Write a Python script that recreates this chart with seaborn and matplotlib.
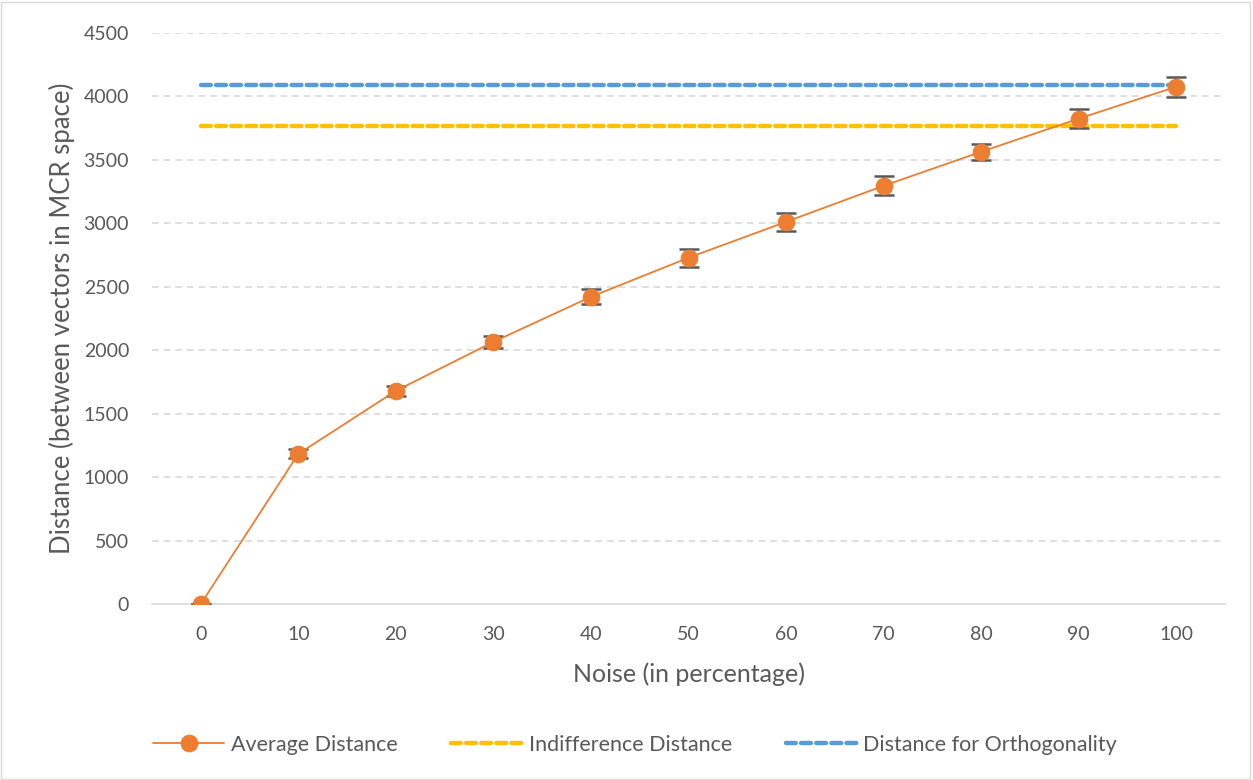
import pandas as pd
import matplotlib.pyplot as plt
import seaborn as sns
from matplotlib.patches import Rectangle

# Data
noise = [0, 10, 20, 30, 40, 50, 60, 70, 80, 90, 100]
avg_distance = [0, 1183, 1680, 2066, 2421, 2729, 3012, 3296, 3564, 3825, 4077]
avg_error = [0, 35, 40, 50, 60, 70, 70, 75, 65, 75, 80]
indifference = 3765
orthogonality = 4093
y_ticks = [0, 500, 1000, 1500, 2000, 2500, 3000, 3500, 4000, 4500]

df = pd.DataFrame({'Noise': noise, 'Average Distance': avg_distance, 'err': avg_error})
df['Indifference Distance'] = indifference
df['Distance for Orthogonality'] = orthogonality

sns.set_style('white')
plt.rcParams['font.family'] = ['Lato', 'DejaVu Sans']

fig = plt.figure(figsize=(12.53, 7.8), dpi=100)
ax = fig.add_axes([0.1213, 0.2256, 0.8564, 0.7321])

# Grid lines
for t in y_ticks[1:]:
  ax.axhline(t, color='#D9D9D9', lw=1.2, ls=(0, (4, 3)), zorder=0)

# Horizontal reference lines
sns.lineplot(data=df, x='Noise', y='Distance for Orthogonality', ax=ax,
             color='#5B9BD5', lw=3.2, ls=(0, (2.2, 1.2)),
             dash_capstyle='round', label='Distance for Orthogonality', zorder=2)
sns.lineplot(data=df, x='Noise', y='Indifference Distance', ax=ax,
             color='#FFC000', lw=3.2, ls=(0, (2.2, 1.2)),
             dash_capstyle='round', label='Indifference Distance', zorder=2)

# Error bars
ax.errorbar(df['Noise'], df['Average Distance'], yerr=df['err'], fmt='none',
            ecolor='#595959', elinewidth=1.5, capsize=7, capthick=1.8, zorder=3)

# Main series
sns.lineplot(data=df, x='Noise', y='Average Distance', ax=ax,
             color='#ED7D31', lw=1.3, marker='o', markersize=12,
             markeredgecolor='#ED7D31', label='Average Distance', zorder=4)

ax.set_xlim(-5, 105)
ax.set_ylim(0, 4500)
ax.set_xticks(noise)
ax.set_yticks(y_ticks)
ax.tick_params(axis='both', length=0, labelsize=14, colors='#595959')
ax.tick_params(axis='y', pad=16.5)
ax.tick_params(axis='x', pad=16)
for s in ['top', 'right', 'left']:
  ax.spines[s].set_visible(False)
ax.spines['bottom'].set_color('#D9D9D9')
ax.spines['bottom'].set_linewidth(1.2)

ax.set_xlabel('Noise (in percentage)', fontsize=18, color='#595959', labelpad=14)
ax.set_ylabel('Distance (between vectors in MCR space)', fontsize=18.5,
              color='#595959', labelpad=6)

# Legend at the bottom, in the original order
handles, labels = ax.get_legend_handles_labels()
order = [labels.index(n) for n in
         ['Average Distance', 'Indifference Distance', 'Distance for Orthogonality']]
leg = fig.legend([handles[i] for i in order], [labels[i] for i in order],
                 loc='center', bbox_to_anchor=(0.507, 0.045), ncol=3,
                 frameon=False, fontsize=15.5, handlelength=3.3,
                 columnspacing=2.5, handletextpad=0.3)
for txt in leg.get_texts():
  txt.set_color('#595959')
if ax.get_legend():
  ax.get_legend().remove()

# Chart border
fig.patches.append(Rectangle((0.001, 0.001), 0.997, 0.997, transform=fig.transFigure,
                             fill=False, edgecolor='#D9D9D9', lw=1))

plt.savefig('out.png', dpi=100)
